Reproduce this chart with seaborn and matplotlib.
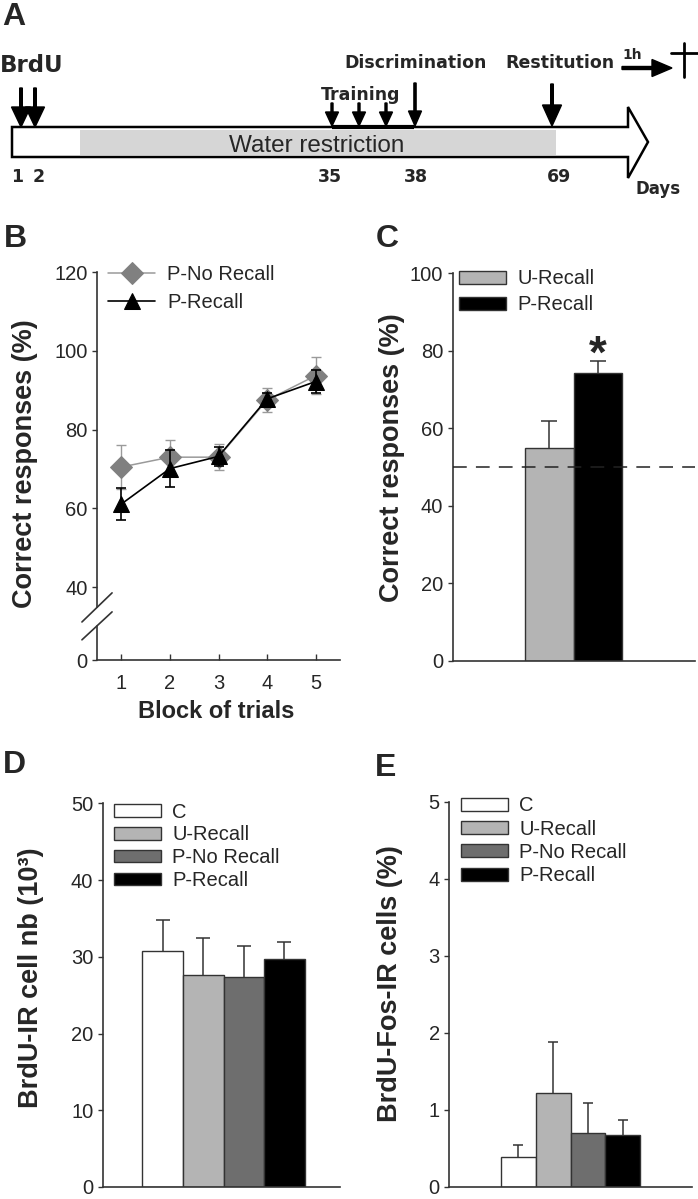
import numpy as np
import pandas as pd
import matplotlib
matplotlib.use("Agg")
import matplotlib.pyplot as plt
import seaborn as sns
from matplotlib.patches import Polygon, Rectangle, Patch

# ---------------- data ----------------
timeline_days = ["1", "2", "35", "38", "69"]
timeline_events = ["BrdU", "Training", "Discrimination", "Restitution"]

blocks = [1, 2, 3, 4, 5]
b_no_recall = [70.5, 73.0, 73.0, 87.5, 93.7]
b_no_recall_se = [5.7, 4.3, 3.3, 3.1, 4.6]
b_recall = [61.1, 70.1, 73.2, 87.8, 92.2]
b_recall_se = [4.1, 4.7, 2.4, 1.5, 2.8]

c_groups = ["U-Recall", "P-Recall"]
c_values = [54.9, 74.3]
c_se = [6.9, 3.1]
chance_level = 50

d_groups = ["C", "U-Recall", "P-No Recall", "P-Recall"]
d_values = [30.8, 27.6, 27.3, 29.7]
d_se = [4.0, 4.9, 4.1, 2.2]

e_groups = ["C", "U-Recall", "P-No Recall", "P-Recall"]
e_values = [0.39, 1.22, 0.70, 0.67]
e_se = [0.15, 0.66, 0.39, 0.20]

group_colors = {"C": "#ffffff", "U-Recall": "#b4b4b4",
                "P-No Recall": "#6e6e6e", "P-Recall": "#000000"}

# ---------------- style ----------------
sns.set_style("ticks")
plt.rcParams["font.family"] = ["Liberation Sans", "DejaVu Sans"]
SP = "#333333"
TICK_FS = 14.5
LAB_FS = 19.5

W, H = 698, 1199
fig = plt.figure(figsize=(W / 100, H / 100), dpi=100)


def axes_px(left, top, right, bottom):
    return fig.add_axes([left / W, 1 - bottom / H, (right - left) / W, (bottom - top) / H])


def style_axes(ax):
    for s in ("top", "right"):
        ax.spines[s].set_visible(False)
    for s in ("left", "bottom"):
        ax.spines[s].set_color(SP)
        ax.spines[s].set_linewidth(1.2)
    ax.tick_params(axis="y", direction="out", length=3.8, width=1, color=SP,
                   labelsize=TICK_FS, pad=3)


# ---------------- panel A (timeline schematic) ----------------
axA = axes_px(0, 0, 698, 200)
axA.set_xlim(0, 698)
axA.set_ylim(200, 0)
axA.axis("off")

body = Polygon([(12, 127), (628, 127), (628, 107), (648, 142), (628, 178),
                (628, 157), (12, 157)], closed=True, facecolor="white",
               edgecolor="black", lw=1.8, zorder=1)
axA.add_patch(body)
axA.add_patch(Rectangle((80, 130), 476, 25, facecolor="#d6d6d6", edgecolor="none", zorder=2))
axA.plot([332, 414], [127, 127], color="black", lw=3, zorder=3, solid_capstyle="butt")
axA.text(317, 146, "Water restriction", ha="center", va="center", fontsize=17.5, zorder=4)

comic = dict(family="DejaVu Sans", weight="bold")
# BrdU injections
for x in (21, 35):
    axA.arrow(x, 88, 0, 39, width=2.6, head_width=19, head_length=20,
              length_includes_head=True, fc="black", ec="black", zorder=5)
axA.text(32, 66, timeline_events[0], ha="center", va="center", fontsize=16.5, **comic)
# training
for x in (332, 359, 386):
    axA.arrow(x, 103, 0, 23, width=2.0, head_width=13, head_length=14,
              length_includes_head=True, fc="black", ec="black", zorder=5)
axA.text(361, 95, timeline_events[1], ha="center", va="center", fontsize=12.5, **comic)
# discrimination
axA.arrow(415, 83, 0, 43, width=2.2, head_width=13, head_length=15,
          length_includes_head=True, fc="black", ec="black", zorder=5)
axA.text(416, 63, timeline_events[2], ha="center", va="center", fontsize=12.5, **comic)
# restitution
axA.arrow(552, 84, 0, 42, width=2.6, head_width=19, head_length=21,
          length_includes_head=True, fc="black", ec="black", zorder=5)
axA.text(560, 63, timeline_events[3], ha="center", va="center", fontsize=12.5, **comic)
# 1h arrow and cross
axA.arrow(622, 68, 50, 0, width=3, head_width=17, head_length=20,
          length_includes_head=True, fc="black", ec="black", zorder=5)
axA.text(632, 55, "1h", ha="center", va="center", fontsize=10, **comic)
axA.plot([684, 684], [43, 77], color="black", lw=2)
axA.plot([671, 698], [53, 53], color="black", lw=2)
# day labels
for lbl, x in zip(timeline_days, [17, 39, 330, 416, 559]):
    axA.text(x, 177, lbl, ha="center", va="center", fontsize=12.5, **comic)
axA.text(658, 189, "Days", ha="center", va="center", fontsize=12, **comic)

# ---------------- panel B (learning curves, broken axis) ----------------
K = 0.462


def fwd(y):
    y = np.asarray(y, dtype=float)
    return np.where(y >= 40, y, 40 - (40 - y) * K)


def inv(t):
    t = np.asarray(t, dtype=float)
    return np.where(t >= 40, t, 40 - (40 - t) / K)


axB = axes_px(97, 272, 340, 660)
style_axes(axB)
axB.set_yscale("function", functions=(fwd, inv))

dfB = pd.DataFrame({"block": blocks * 2,
                    "resp": b_no_recall + b_recall,
                    "group": ["P-No Recall"] * 5 + ["P-Recall"] * 5})
axB.errorbar(blocks, b_no_recall, yerr=b_no_recall_se, fmt="none", ecolor="#9a9a9a",
             elinewidth=1, capsize=3.5, capthick=1, zorder=1.5)
sns.lineplot(data=dfB[dfB.group == "P-No Recall"], x="block", y="resp", ax=axB,
             color="#9a9a9a", lw=1.1, marker="D", markersize=11,
             markerfacecolor="#808080", markeredgecolor="#808080",
             label="P-No Recall", zorder=2)
axB.errorbar(blocks, b_recall, yerr=b_recall_se, fmt="none", ecolor="black",
             elinewidth=1.2, capsize=3.5, capthick=1.2, zorder=2.5)
sns.lineplot(data=dfB[dfB.group == "P-Recall"], x="block", y="resp", ax=axB,
             color="black", lw=1.2, marker="^", markersize=11.5,
             markerfacecolor="black", markeredgecolor="black",
             label="P-Recall", zorder=3)

axB.set_xlim(0.5, 5.5)
axB.set_ylim(0, 120)
axB.set_yticks([0, 40, 60, 80, 100, 120])
axB.set_yticklabels(["0", "40", "60", "80", "100", "120"])
axB.set_xticks(blocks)
axB.tick_params(axis="x", direction="in", length=4, width=1, color=SP,
                labelsize=TICK_FS, pad=10)
axB.spines["left"].set_bounds(28.9, 120)
axB.plot([0, 0], [0, 18.8], transform=axB.get_yaxis_transform(), color=SP, lw=1.2,
         clip_on=False, zorder=5)
for (y0, y1) in ((0.098, 0.173), (0.052, 0.124)):
    axB.plot([-0.062, 0.062], [y0, y1], transform=axB.transAxes, color=SP, lw=1.2,
             clip_on=False)
axB.set_xlabel("Block of trials", fontsize=17, fontweight="bold", va="center")
axB.xaxis.set_label_coords(0.492, -0.134)
axB.set_ylabel("Correct responses (%)", fontsize=LAB_FS, fontweight="bold", va="center")
axB.yaxis.set_label_coords(-0.296, 0.506)
axB.legend(loc="upper left", bbox_to_anchor=(0.045, 1.017), frameon=False,
           fontsize=TICK_FS, handlelength=2.35, handletextpad=0.6, borderpad=0,
           borderaxespad=0, labelspacing=0.45)


# ---------------- bar panels ----------------
def bar_panel(ax, groups, values, se, capsize, xlim, ylim, yticks, ylabel, label_xy,
              leg_anchor, labelspacing):
    style_axes(ax)
    df = pd.DataFrame({"group": groups, "value": values})
    pal = [group_colors[g] for g in groups]
    sns.barplot(data=df, x="group", y="value", hue="group", order=groups,
                hue_order=groups, palette=pal, saturation=1, width=1,
                edgecolor=SP, linewidth=1, legend=False, errorbar=None, ax=ax)
    eb = ax.errorbar(np.arange(len(groups)), values, yerr=[np.zeros(len(se)), se],
                     fmt="none", ecolor=SP, elinewidth=1.1, capsize=capsize,
                     capthick=1.1, zorder=3)
    if len(eb[1]) > 1:
        eb[1][0].set_visible(False)  # hide the (zero-length) lower cap
    ax.set_xlim(*xlim)
    ax.set_ylim(*ylim)
    ax.set_yticks(yticks)
    ax.set_xticks([])
    ax.set_xlabel("")
    ax.set_ylabel(ylabel, fontsize=LAB_FS, fontweight="bold", va="center")
    ax.yaxis.set_label_coords(*label_xy)
    handles = [Patch(facecolor=group_colors[g], edgecolor=SP, lw=1, label=g) for g in groups]
    ax.legend(handles=handles, loc="upper left", bbox_to_anchor=leg_anchor, frameon=False,
              fontsize=TICK_FS, handlelength=2.35, handleheight=0.6, handletextpad=0.55,
              borderpad=0, borderaxespad=0, labelspacing=labelspacing)


axC = axes_px(452.7, 273.3, 695, 660.7)
bar_panel(axC, c_groups, c_values, c_se, 5.5, (-1.98, 2.99), (0, 100),
          [0, 20, 40, 60, 80, 100], "Correct responses (%)", (-0.252, 0.523),
          (0.026, 1.01), 0.35)
axC.axhline(chance_level, color="#222222", lw=1.1, dashes=(9, 6), zorder=4)
axC.text(1, c_values[1] - 1.2, "*", ha="center", va="bottom",
         fontsize=33, fontweight="bold")

axD = axes_px(102.7, 803.3, 340, 1187)
bar_panel(axD, d_groups, d_values, d_se, 4.7, (-1.48, 4.37), (0, 50),
          [0, 10, 20, 30, 40, 50], "BrdU-IR cell nb (10³)", (-0.302, 0.545),
          (0.048, 1.002), 0.19)

axE = axes_px(449.3, 801.7, 691.7, 1187)
bar_panel(axE, e_groups, e_values, e_se, 3.6, (-1.97, 4.97), (0, 5),
          [0, 1, 2, 3, 4, 5], "BrdU-Fos-IR cells (%)", (-0.245, 0.529),
          (0.047, 1.014), 0.215)

# ---------------- panel letters ----------------
for letter, x, y in (("A", 14, 17), ("B", 15, 239), ("C", 387, 239),
                     ("D", 14, 765), ("E", 386, 768)):
    fig.text(x / W, 1 - y / H, letter, ha="center", va="center", fontsize=23,
             fontweight="bold")

fig.savefig("out.png", dpi=100)
